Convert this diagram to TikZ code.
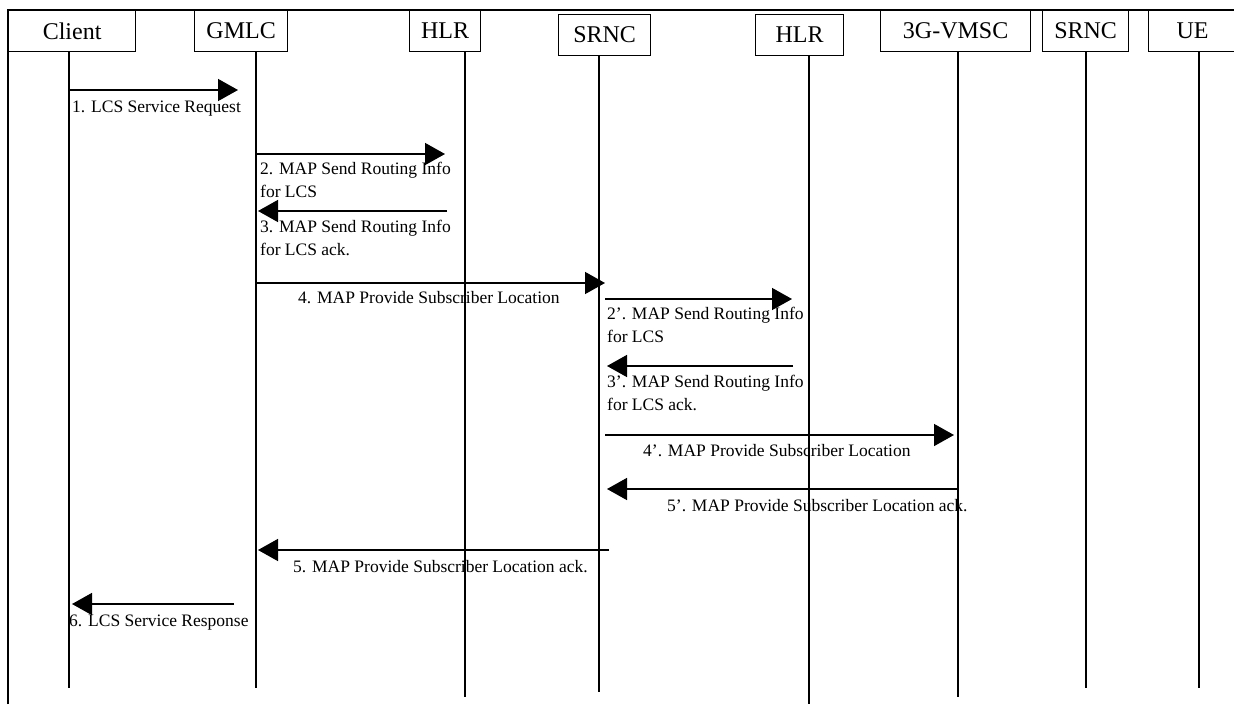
\documentclass[tikz,border=0pt]{standalone}
\usepackage{fontspec}
\setmainfont{Liberation Serif}
\usetikzlibrary{arrows.meta}
\begin{document}
\begin{tikzpicture}[x=1pt,y=-1pt,
  hdr/.style={draw,line width=1.2pt,inner sep=0pt,anchor=north west,font=\fontsize{24}{26}\selectfont},
  life/.style={line width=1.2pt},
  frame/.style={line width=2pt},
  msg/.style={line width=1.5pt,-{Triangle[length=20pt,width=22pt]}},
  lbl/.style={inner sep=0pt,font=\fontsize{17.5}{23}\selectfont,align=left}]
\useasboundingbox (0,0) rectangle (1234,704);
\clip (0,0) rectangle (1234,704);
% frame
\draw[frame] (8,704) -- (8,10) -- (1240,10);
% header boxes
\node[hdr,minimum width=127pt,minimum height=41pt] (client) at (8,10) {Client};
\node[hdr,minimum width=93pt,minimum height=41pt] (gmlc) at (194,10) {GMLC};
\node[hdr,minimum width=71pt,minimum height=41pt] (hlra) at (409,10) {HLR};
\node[hdr,minimum width=92pt,minimum height=41pt] (srnca) at (558,14) {SRNC};
\node[hdr,minimum width=88pt,minimum height=41pt] (hlrb) at (755,14) {HLR};
\node[hdr,minimum width=150pt,minimum height=41pt] (vmsc) at (880,10) {3G-VMSC};
\node[hdr,minimum width=86pt,minimum height=41pt] (srncb) at (1042,10) {SRNC};
\node[hdr,minimum width=88pt,minimum height=41pt] (ue) at (1148,10) {UE};
% lifeline ends
\coordinate (clientT) at (69,51);   \coordinate (clientB) at (69,688);
\coordinate (gmlcT) at (256,51);    \coordinate (gmlcB) at (256,688);
\coordinate (hlraT) at (465,51);    \coordinate (hlraB) at (465,697);
\coordinate (srncaT) at (599,55);   \coordinate (srncaB) at (599,692);
\coordinate (hlrbT) at (809,55);    \coordinate (hlrbB) at (809,704);
\coordinate (vmscT) at (958,51);    \coordinate (vmscB) at (958,697);
\coordinate (srncbT) at (1086,51);  \coordinate (srncbB) at (1086,688);
\coordinate (ueT) at (1199,51);     \coordinate (ueB) at (1199,688);
\foreach \n in {client,gmlc,hlra,srnca,hlrb,vmsc,srncb,ue}
  \draw[life] (\n T) -- (\n B);
% message end points
\coordinate (m1s) at (70,90);   \coordinate (m1e) at (238,90);
\coordinate (m2s) at (257,154); \coordinate (m2e) at (445,154);
\coordinate (m3s) at (447,211); \coordinate (m3e) at (258,211);
\coordinate (m4s) at (257,283); \coordinate (m4e) at (605,283);
\coordinate (m2ps) at (605,299); \coordinate (m2pe) at (792,299);
\coordinate (m3ps) at (793,366); \coordinate (m3pe) at (607,366);
\coordinate (m4ps) at (605,435); \coordinate (m4pe) at (954,435);
\coordinate (m5ps) at (957,489); \coordinate (m5pe) at (607,489);
\coordinate (m5s) at (609,550); \coordinate (m5e) at (258,550);
\coordinate (m6s) at (234,604); \coordinate (m6e) at (72,604);
\draw[msg] (m1s) -- (m1e);
\draw[msg] (m2s) -- (m2e);
\draw[msg] (m3s) -- (m3e);
\draw[msg] (m4s) -- (m4e);
\draw[msg] (m2ps) -- (m2pe);
\draw[msg] (m3ps) -- (m3pe);
\draw[msg] (m4ps) -- (m4pe);
\draw[msg] (m5ps) -- (m5pe);
\draw[msg] (m5s) -- (m5e);
\draw[msg] (m6s) -- (m6e);
% labels
\node[lbl,anchor=base west] (l1) at (72,112) {1. LCS Service Request};
\node[lbl,anchor=north west] (l2) at (260,162) {2. MAP Send Routing Info\\for LCS};
\node[lbl,anchor=north west] (l3) at (260,220) {3. MAP Send Routing Info\\for LCS ack.};
\node[lbl,anchor=base west] (l4) at (298,303) {4. MAP Provide Subscriber Location};
\node[lbl,anchor=north west] (l2p) at (607,307) {2’. MAP Send Routing Info\\for LCS};
\node[lbl,anchor=north west] (l3p) at (607,375) {3’. MAP Send Routing Info\\for LCS ack.};
\node[lbl,anchor=base west] (l4p) at (643,456) {4’. MAP Provide Subscriber Location};
\node[lbl,anchor=base west] (l5p) at (667,511) {5’. MAP Provide Subscriber Location ack.};
\node[lbl,anchor=base west] (l5) at (293,572) {5. MAP Provide Subscriber Location ack.};
\node[lbl,anchor=base west] (l6) at (69,626) {6. LCS Service Response};
\end{tikzpicture}
\end{document}
